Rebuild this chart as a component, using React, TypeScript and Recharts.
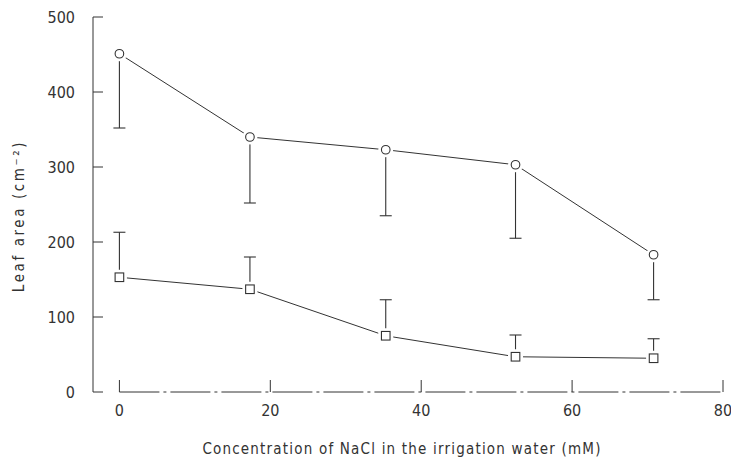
import { ErrorBar, Line, LineChart, ReferenceLine, XAxis, YAxis } from "recharts";

// NaCl concentration (mM)
const NACL = [0, 17.3, 35.3, 52.5, 70.8];
// upper series (circles) and its downward error
const CIRCLE = [451, 340, 323, 303, 183];
const CIRCLE_ERR = [99, 88, 88, 98, 60];
// lower series (squares) and its upward error
const SQUARE = [153, 137, 75, 47, 45];
const SQUARE_ERR = [60, 43, 48, 29, 26];

const X_TICKS = [0, 20, 40, 60, 80];
const Y_TICKS = [0, 100, 200, 300, 400, 500];

const INK = "#333";
const FONT = "'Liberation Sans Narrow', 'DejaVu Sans Condensed', sans-serif";
const TICK = { fill: INK, fontSize: 16, fontFamily: FONT };

const data = NACL.map((x, i) => ({
  x,
  circle: CIRCLE[i],
  circleErr: [CIRCLE_ERR[i], 0],
  square: SQUARE[i],
  squareErr: [0, SQUARE_ERR[i]],
}));

// white halo first so lines stop short of the marker, like the print
function CircleDot(props: any) {
  const { cx, cy, index } = props;
  if (cx == null || cy == null) return null;
  return (
    <g key={`c${index}`}>
      <circle cx={cx} cy={cy} r={7.5} fill="#fff" />
      <circle cx={cx} cy={cy} r={4.3} fill="#fff" stroke={INK} strokeWidth={1.1} />
    </g>
  );
}

function SquareDot(props: any) {
  const { cx, cy, index } = props;
  if (cx == null || cy == null) return null;
  return (
    <g key={`s${index}`}>
      <rect x={cx - 7.5} y={cy - 7.5} width={15} height={15} fill="#fff" />
      <rect x={cx - 4.3} y={cy - 4.3} width={8.6} height={8.6} fill="#fff" stroke={INK} strokeWidth={1.1} />
    </g>
  );
}

function YTitle() {
  return (
    <text
      x={19}
      y={216}
      transform="rotate(-90 19 216)"
      textAnchor="middle"
      dominantBaseline="central"
      fill={INK}
      fontSize={15}
      fontFamily={FONT}
      letterSpacing={2.6}
    >
      Leaf area (cm⁻²)
    </text>
  );
}

export default function App() {
  return (
    <div style={{ position: "absolute", left: 0, top: 0, background: "#fff" }}>
      <LineChart
        width={731}
        height={459}
        data={data}
        margin={{ top: 17, right: 8, bottom: 0, left: 0 }}
      >
        <XAxis
          dataKey="x"
          type="number"
          domain={[-3.5, 80]}
          ticks={X_TICKS}
          axisLine={false}
          tickSize={-12}
          tickMargin={25}
          tickLine={{ stroke: INK }}
          tick={TICK}
          height={67}
          label={{
            value: "Concentration of NaCl in the irrigation water (mM)",
            position: "insideBottom",
            offset: 5,
            dx: -6,
            style: { fill: INK, fontSize: 15, fontFamily: FONT, letterSpacing: 1.2 },
          }}
        />
        <YAxis
          type="number"
          domain={[0, 500]}
          ticks={Y_TICKS}
          width={93}
          tickSize={-10}
          tickMargin={28}
          axisLine={{ stroke: INK }}
          tickLine={{ stroke: INK }}
          tick={TICK}
          label={{ content: () => <YTitle /> }}
        />
        <ReferenceLine
          segment={[
            { x: 0, y: 0 },
            { x: 80, y: 0 },
          ]}
          stroke={INK}
          strokeDasharray="40 4 3 4"
          ifOverflow="visible"
        />
        <Line
          dataKey="circle"
          stroke={INK}
          strokeWidth={1}
          dot={(p: any) => <CircleDot key={`c${p.index}`} {...p} />}
          activeDot={false}
          isAnimationActive={false}
        >
          <ErrorBar dataKey="circleErr" width={6} stroke={INK} strokeWidth={1.1} />
        </Line>
        <Line
          dataKey="square"
          stroke={INK}
          strokeWidth={1}
          dot={(p: any) => <SquareDot key={`s${p.index}`} {...p} />}
          activeDot={false}
          isAnimationActive={false}
        >
          <ErrorBar dataKey="squareErr" width={6} stroke={INK} strokeWidth={1.1} />
        </Line>
      </LineChart>
    </div>
  );
}
